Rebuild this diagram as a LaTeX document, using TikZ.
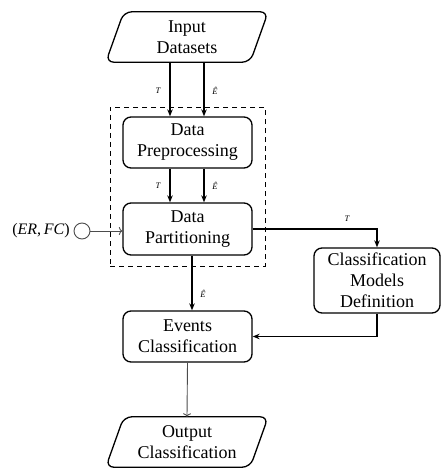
\documentclass[tikz,border=0pt]{standalone}
\usepackage{fontspec}
\setmainfont{Liberation Serif}
\usetikzlibrary{arrows.meta,calc}
\begin{document}
\begin{tikzpicture}[x=1pt,y=-1pt,
 box/.style={draw, line width=1.3pt, rounded corners=8pt, align=center, font=\fontsize{18}{21}\selectfont, inner sep=0pt},
 io/.style={align=center, font=\fontsize{18}{21}\selectfont, inner sep=0pt, minimum width=162, minimum height=50},
 iodraw/.style={draw, line width=1.3pt, rounded corners=8pt},
 main/.style={line width=1.3pt, -{Stealth[length=7pt,width=5.5pt]}},
 thinarr/.style={draw=black!70, line width=0.9pt, -{To[length=3.5pt,width=8pt]}},
 lab/.style={font=\fontsize{8.5}{9}\selectfont\itshape, inner sep=1pt}]
\useasboundingbox (0,0) rectangle (441,468);
% group
\node[draw, dashed, dash pattern=on 5pt off 4pt, line width=0.8pt, minimum width=155, minimum height=159, inner sep=0pt] (grp) at (187.5,186.5) {};
% nodes
\node[io] (in) at (187,37) {Input\\Datasets};
\draw[iodraw] (in.south west) -- ($(in.north west)+(18,0)$) -- (in.north east) -- ($(in.south east)+(-18,0)$) -- cycle;
\node[box, fill=white, minimum width=129, minimum height=51] (pre) at (187.5,142.5) {Data\\Preprocessing};
\node[box, fill=white, minimum width=129, minimum height=52] (part) at (187.5,229) {Data\\Partitioning};
\node[box, minimum width=126, minimum height=65] (cmd) at (377,280.5) {Classification\\Models\\Definition};
\node[box, minimum width=129, minimum height=51] (ev) at (187.5,336.5) {Events\\Classification};
\node[io] (out) at (187,442) {Output\\Classification};
\draw[iodraw] (out.south west) -- ($(out.north west)+(18,0)$) -- (out.north east) -- ($(out.south east)+(-18,0)$) -- cycle;
\node[circle, draw=black!70, line width=0.9pt, minimum size=16pt, inner sep=0pt] (c) at (82,231) {};
\node[font=\fontsize{16}{18}\selectfont, anchor=east, inner sep=0pt] (erfc) at (70,231) {(\textit{ER},\,\textit{FC})};
% helper x positions
\coordinate (xT) at (170,0);
\coordinate (xE) at (204,0);
\coordinate (xM) at (192,0);
% edges
\draw[main] (in.south -| xT) -- (pre.north -| xT);
\draw[main] (in.south -| xE) -- (pre.north -| xE);
\node[lab] (l1) at (158,91) {T};
\node[lab] (l2) at (215,91) {Ê};
\draw[main] (pre.south -| xT) -- (part.north -| xT);
\draw[main] (pre.south -| xE) -- (part.north -| xE);
\node[lab] (l3) at (158,186) {T};
\node[lab] (l4) at (215,186) {Ê};
\draw[main] (part.east) -| (cmd.north);
\node[lab] (l5) at (347,219) {T};
\draw[main] (part.south -| xM) -- (ev.north -| xM);
\node[lab] (l6) at (203,294) {Ê};
\draw[main] (cmd.south) |- (ev.east);
\draw[thinarr] (ev.south) -- (out.north);
\draw[thinarr] (c) -- (part.west |- c);
\end{tikzpicture}
\end{document}
